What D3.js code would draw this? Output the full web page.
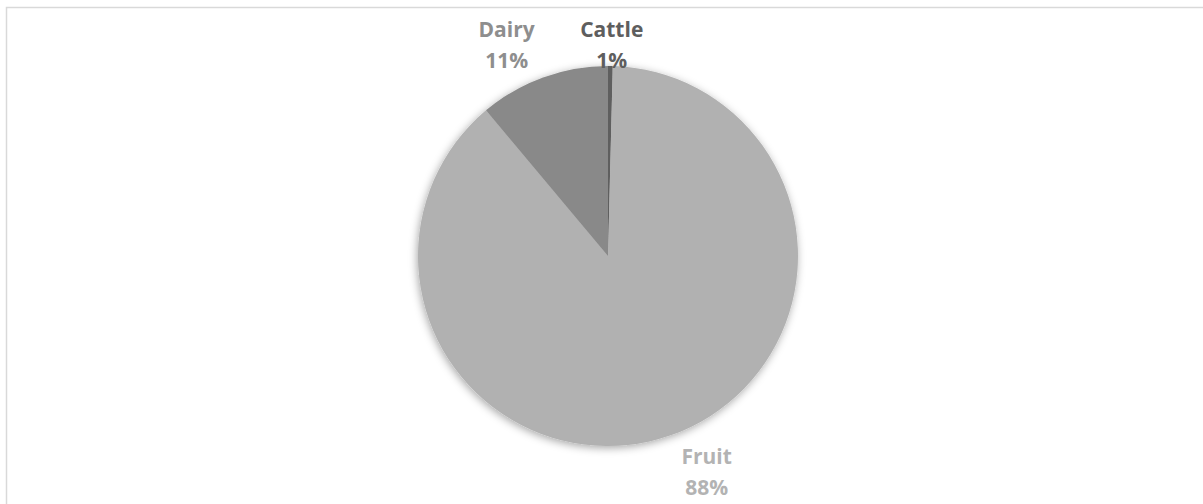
<!DOCTYPE html>
<html>
<head>
<meta charset="utf-8">
<script src="https://cdn.jsdelivr.net/npm/d3@7"></script>
<style>
  body { margin: 0; background: #fff; }
  svg { display: block; }
</style>
</head>
<body>
<div id="chart"></div>
<script>
// slices in clockwise order from 12 o'clock
const categories = ["Cattle", "Fruit", "Dairy"];
const values = [0.4, 88.5, 11.1];
const pctLabels = ["1%", "88%", "11%"];
const sliceColours = ["#5f5f5f", "#b1b1b1", "#898989"];
const labelColours = ["#5e5e5e", "#b3b3b3", "#8e8e8e"];

function drawChart() {
    const width = 1203, height = 504;
    const svg = d3.select("#chart").append("svg")
        .attr("width", width)
        .attr("height", height);

    // chart border (only top and left visible inside the frame)
    svg.append("rect")
        .attr("x", 6.5).attr("y", 7.5)
        .attr("width", width + 20).attr("height", height + 20)
        .attr("fill", "#fff")
        .attr("stroke", "#d9d9d9")
        .attr("stroke-width", 1.5);

    const plot = { top: 20, bottom: 500 };
    const cx = 608, cy = 256, r = 190;

    const defs = svg.append("defs");
    const f = defs.append("filter").attr("id", "shadow")
        .attr("x", "-20%").attr("y", "-20%").attr("width", "140%").attr("height", "140%");
    f.append("feDropShadow")
        .attr("dx", -1).attr("dy", 2)
        .attr("stdDeviation", 4)
        .attr("flood-color", "#000")
        .attr("flood-opacity", 0.35);

    const pie = d3.pie().sort(null).value(d => d)(values);
    const arc = d3.arc().innerRadius(0).outerRadius(r);

    const g = svg.append("g").attr("transform", `translate(${cx},${cy})`);
    g.append("g").attr("filter", "url(#shadow)")
        .selectAll("path")
        .data(pie)
        .enter()
        .append("path")
        .attr("d", arc)
        .attr("fill", (d, i) => sliceColours[i]);

    // labels: box corner touches the point just outside the arc, kept inside plot area
    const gap = 13, boxW = 64, boxH = 53, lineGap = 31;
    const clamp = v => Math.max(-1, Math.min(1, v));
    pie.forEach((d, i) => {
        const a = (d.startAngle + d.endAngle) / 2;
        const px = (r + gap) * Math.sin(a);
        const py = -(r + gap) * Math.cos(a);
        let bx = cx + px + clamp(3 * Math.sin(a)) * boxW / 2;
        let top = cy + py + clamp(-3 * Math.cos(a)) * boxH / 2 - boxH / 2;
        top = Math.max(plot.top, Math.min(plot.bottom - boxH, top));

        const t = svg.append("text")
            .attr("text-anchor", "middle")
            .style("font-family", "'Open Sans', sans-serif")
            .style("font-weight", "bold")
            .style("font-size", "21px")
            .style("fill", labelColours[i]);
        t.append("tspan").attr("x", bx).attr("y", top + 17).text(categories[i]);
        t.append("tspan").attr("x", bx).attr("y", top + 17 + lineGap).text(pctLabels[i]);
    });
}

drawChart();
</script>
</body>
</html>
